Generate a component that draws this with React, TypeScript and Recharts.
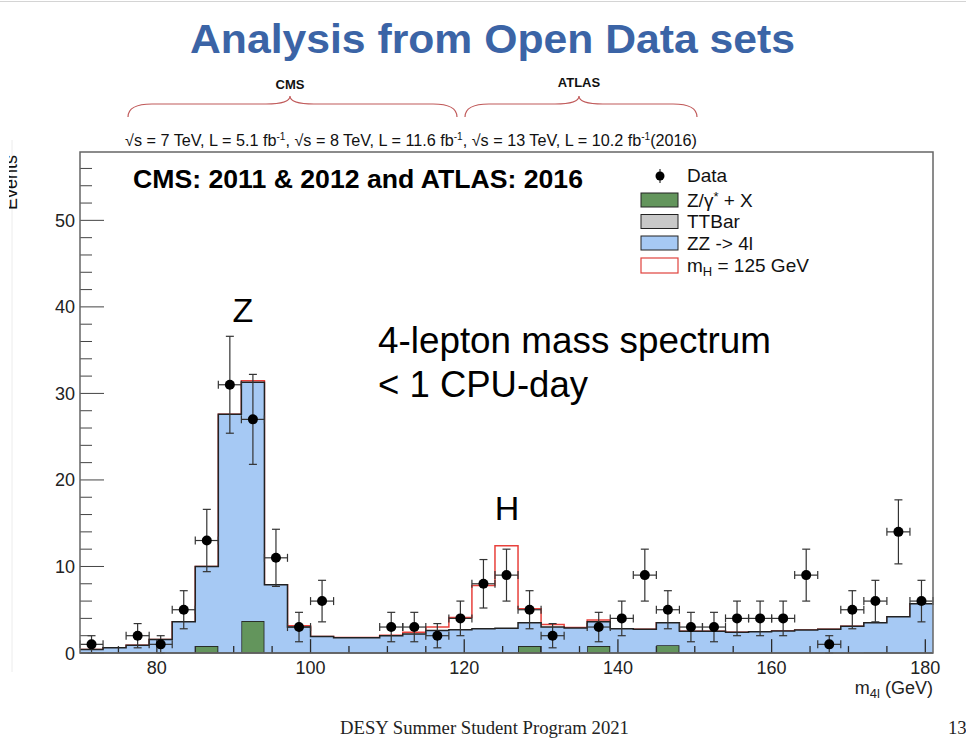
import React from 'react';
import { ComposedChart, Area, Scatter, ErrorBar, XAxis, YAxis, ReferenceLine } from 'recharts';

// Bin lower edges (GeV), 3 GeV bins, upper edge of last bin = 181
const binLow = [70, 73, 76, 79, 82, 85, 88, 91, 94, 97, 100, 103, 106, 109, 112, 115, 118, 121, 124, 127, 130, 133, 136, 139, 142, 145, 148, 151, 154, 157, 160, 163, 166, 169, 172, 175, 178];
const lastEdge = 181;

// Stacked backgrounds (events per bin)
const zgam = [0, 0, 0, 0, 0, 0.8, 0, 3.7, 0, 0, 0, 0, 0, 0, 0, 0, 0, 0, 0, 0.8, 0, 0, 0.8, 0, 0, 0.9, 0, 0, 0, 0, 0, 0, 0, 0, 0, 0, 0];
const ttbar = [0, 0, 0, 0, 0, 0, 0, 0, 0, 0, 0, 0, 0, 0, 0, 0, 0, 0, 0, 0, 0, 0, 0, 0, 0, 0, 0, 0, 0, 0, 0, 0, 0, 0, 0.1, 0, 0];
const zz4l = [0.4, 0.6, 0.9, 1.55, 3.6, 9.2, 27.6, 27.6, 7.9, 3.0, 1.9, 1.75, 1.75, 2.0, 2.2, 2.6, 2.7, 2.8, 2.85, 2.7, 3.0, 2.9, 2.8, 2.8, 2.75, 2.6, 2.5, 2.5, 2.4, 2.45, 2.55, 2.65, 2.75, 3.1, 3.4, 4.2, 5.7];
// Higgs signal (m_H = 125 GeV) on top of the stack
const higgs = [0, 0, 0, 0, 0, 0, 0, 0.15, 0, 0.15, 0, 0.05, 0.05, 0.05, 0.2, 0.4, 1.4, 5.0, 9.55, 1.6, 0.3, 0.05, 0.2, 0, 0, 0, 0, 0, 0, 0, 0, 0, 0, 0, 0, 0, 0];

// Data points
const dataMass = [71.5, 77.5, 80.5, 83.5, 86.5, 89.5, 92.5, 95.5, 98.5, 101.5, 110.5, 113.5, 116.5, 119.5, 122.5, 125.5, 128.5, 131.5, 137.5, 140.5, 143.5, 146.5, 149.5, 152.5, 155.5, 158.5, 161.5, 164.5, 167.5, 170.5, 173.5, 176.5, 179.5];
const dataCounts = [1, 2, 1, 5, 13, 31, 27, 11, 3, 6, 3, 3, 2, 4, 8, 9, 5, 2, 3, 4, 9, 5, 3, 3, 4, 4, 4, 9, 1, 5, 6, 14, 6];
const dataErr = [1, 1.4, 1, 2.2, 3.6, 5.6, 5.2, 3.3, 1.7, 2.4, 1.7, 1.7, 1.4, 2, 2.8, 3, 2.2, 1.4, 1.7, 2, 3, 2.2, 1.7, 1.7, 2, 2, 2, 3, 1, 2.2, 2.4, 3.7, 2.4];
const halfBin = [1.5];

const xTicks = [75, 80, 85, 90, 95, 100, 105, 110, 115, 120, 125, 130, 135, 140, 145, 150, 155, 160, 165, 170, 175, 180];
const yTicks = [0, 2, 4, 6, 8, 10, 12, 14, 16, 18, 20, 22, 24, 26, 28, 30, 32, 34, 36, 38, 40, 42, 44, 46, 48, 50, 52, 54, 56];

const histRows = binLow.map((lo, i) => ({
  x: lo,
  zgam: zgam[i],
  ttbar: ttbar[i],
  zz: zz4l[i],
  sig: zgam[i] + ttbar[i] + zz4l[i] + higgs[i],
}));
histRows.push({ ...histRows[histRows.length - 1], x: lastEdge });

const points = dataMass.map((m, i) => ({ x: m, n: dataCounts[i], ey: dataErr[i], ex: halfBin[0] }));

const SANS = '"Liberation Sans", Arial, Helvetica, sans-serif';
const SERIF = '"Liberation Serif", "Times New Roman", serif';

const CHART_MARGIN = { top: 152, right: 33, bottom: 66, left: 40 };
const PLOT_BOTTOM = 749 - CHART_MARGIN.bottom - 30;
const X_MAJOR_LEN = 1.6; // tick length in event units (~14 px)
const X_MINOR_LEN = 0.8; // (~7 px)

const XTick = (props: any) => {
  const { x, payload } = props;
  const v = payload.value;
  const major = v % 20 === 0;
  if (!major) return <g />;
  return (
    <text x={x} y={PLOT_BOTTOM + 21} textAnchor="middle" fontSize={18} fill="#222" fontFamily={SANS}>
      {v}
    </text>
  );
};

const YTick = (props: any) => {
  const { x, y, payload } = props;
  const v = payload.value;
  const major = v % 10 === 0;
  return (
    <g>
      <line x1={x} x2={x + (major ? 24 : 12)} y1={y} y2={y} stroke="#444" strokeWidth={1} />
      {major && (
        <text x={x - 5} y={y + 6.5} textAnchor="end" fontSize={18} fill="#222" fontFamily={SANS}>
          {v}
        </text>
      )}
    </g>
  );
};

const Dot = (props: any) => {
  const { cx, cy } = props;
  return <circle cx={cx} cy={cy} r={5} fill="#000" />;
};

const Overlay = () => (
  <svg
    width={966}
    height={749}
    style={{ position: 'absolute', left: 0, top: 0, pointerEvents: 'none' }}
  >
    {/* slide decorations */}
    <line x1={0} x2={966} y1={1.5} y2={1.5} stroke="#d4d4d4" strokeWidth={1} />
    <line x1={12} x2={12} y1={140} y2={672} stroke="#ececec" strokeWidth={1} />

    {/* title */}
    <text x={190} y={53} fontSize={40} fontWeight="bold" fill="#3b64a6" fontFamily={SANS} textLength={605} lengthAdjust="spacingAndGlyphs">
      Analysis from Open Data sets
    </text>

    {/* braces */}
    <text x={290} y={89} textAnchor="middle" fontSize={13} fontWeight="bold" fill="#111" fontFamily={SANS}>CMS</text>
    <text x={579} y={87} textAnchor="middle" fontSize={13} fontWeight="bold" fill="#111" fontFamily={SANS}>ATLAS</text>
    <path d="M128,117 Q128,104 152,104 L266,104 Q290,104 290,96 Q290,104 314,104 L433,104 Q457,104 457,117" fill="none" stroke="#c05a5a" strokeWidth={1.2} />
    <path d="M465,117 Q465,104 489,104 L555,104 Q579,104 579,96 Q579,104 603,104 L673,104 Q697,104 697,117" fill="none" stroke="#c05a5a" strokeWidth={1.2} />

    {/* energy / luminosity line */}
    <text x={125} y={146} fontSize={16} fill="#111" fontFamily={SANS} textLength={572} lengthAdjust="spacingAndGlyphs">
      √s = 7 TeV, L = 5.1 fb<tspan dy={-6} fontSize={10}>-1</tspan><tspan dy={6}>, √s = 8 TeV, L = 11.6 fb</tspan><tspan dy={-6} fontSize={10}>-1</tspan><tspan dy={6}>, √s = 13 TeV, L = 10.2 fb</tspan><tspan dy={-6} fontSize={10}>-1</tspan><tspan dy={6}>(2016)</tspan>
    </text>

    {/* y axis title, cut at the slide edge */}
    <defs>
      <clipPath id="evclip">
        <rect x={9} y={140} width={20} height={80} />
      </clipPath>
    </defs>
    <g clipPath="url(#evclip)">
      <text x={17} y={210} transform="rotate(-90 17 210)" fontSize={18} fill="#111" fontFamily={SANS}>Events</text>
    </g>

    {/* frame */}
    <rect x={80} y={152} width={853} height={501} fill="none" stroke="#666" strokeWidth={1.5} />

    {/* in-plot annotations */}
    <text x={133} y={188} fontSize={26} fontWeight="bold" fill="#000" fontFamily={SANS} textLength={450} lengthAdjust="spacingAndGlyphs">CMS: 2011 &amp; 2012 and ATLAS: 2016</text>
    <text x={243} y={322} textAnchor="middle" fontSize={34} fill="#000" fontFamily={SANS}>Z</text>
    <text x={507} y={520} textAnchor="middle" fontSize={34} fill="#000" fontFamily={SANS}>H</text>
    <text x={378} y={353} fontSize={36.5} fill="#000" fontFamily={SANS} textLength={393} lengthAdjust="spacingAndGlyphs">4-lepton mass spectrum</text>
    <text x={378} y={397} fontSize={36.5} fill="#000" fontFamily={SANS}>&lt; 1 CPU-day</text>

    {/* legend */}
    <g fontFamily={SANS} fontSize={19} fill="#111">
      <line x1={660} x2={660} y1={169} y2={183} stroke="#000" strokeWidth={1} />
      <circle cx={660} cy={176} r={4.5} fill="#000" />
      <text x={687} y={182}>Data</text>

      <rect x={641} y={193} width={37} height={14} fill="#63955c" stroke="#222" strokeWidth={1} />
      <text x={687} y={206.5}>Z/γ<tspan dy={-6} fontSize={13}>*</tspan><tspan dy={6}> + X</tspan></text>

      <rect x={641} y={214.5} width={37} height={14} fill="#c8c8c8" stroke="#222" strokeWidth={1} />
      <text x={687} y={228}>TTBar</text>

      <rect x={641} y={236} width={37} height={14} fill="#a6c9f4" stroke="#222" strokeWidth={1} />
      <text x={687} y={249.5}>ZZ -&gt; 4l</text>

      <rect x={641} y={258} width={37} height={15} fill="#fff" stroke="#e0413c" strokeWidth={1.2} />
      <text x={687} y={272}>m<tspan dy={4} fontSize={13}>H</tspan><tspan dy={-4}> = 125 GeV</tspan></text>
    </g>

    {/* x axis title */}
    <text x={933} y={694} textAnchor="end" fontSize={18} fill="#222" fontFamily={SANS}>
      m<tspan dy={4} fontSize={13}>4l</tspan><tspan dy={-4}> (GeV)</tspan>
    </text>

    {/* footer */}
    <text x={340} y={734} fontSize={18.7} fill="#222" fontFamily={SERIF}>DESY Summer Student Program 2021</text>
    <text x={948} y={734} fontSize={18.7} fill="#222" fontFamily={SERIF}>13</text>
  </svg>
);

export default function App() {
  return (
    <div style={{ position: 'absolute', left: 0, top: 0, width: 966, height: 749, background: '#fff', overflow: 'hidden' }}>
      {/* histogram chart */}
      <div style={{ position: 'absolute', left: 0, top: 0 }}>
        <ComposedChart width={966} height={749} data={histRows} margin={CHART_MARGIN}>
          <Area
            type="stepAfter"
            dataKey="sig"
            stroke="#e8413c"
            strokeWidth={1.5}
            fill="none"
            isAnimationActive={false}
            dot={false}
            activeDot={false}
          />
          <Area
            type="stepAfter"
            dataKey="zgam"
            stackId="bg"
            stroke="#222"
            strokeWidth={1.5}
            fill="#63955c"
            fillOpacity={1}
            isAnimationActive={false}
            dot={false}
            activeDot={false}
          />
          <Area
            type="stepAfter"
            dataKey="ttbar"
            stackId="bg"
            stroke="#222"
            strokeWidth={1}
            fill="#c8c8c8"
            fillOpacity={1}
            isAnimationActive={false}
            dot={false}
            activeDot={false}
          />
          <Area
            type="stepAfter"
            dataKey="zz"
            stackId="bg"
            stroke="#222"
            strokeWidth={1.5}
            fill="#a6c9f4"
            fillOpacity={1}
            isAnimationActive={false}
            dot={false}
            activeDot={false}
          />
          <XAxis
            type="number"
            dataKey="x"
            domain={[70, 181]}
            ticks={xTicks}
            allowDataOverflow
            height={30}
            axisLine={{ stroke: '#444', strokeWidth: 1.5 }}
            tickLine={false}
            tick={false}
          />
          <YAxis
            type="number"
            domain={[0, 57.9]}
            ticks={yTicks}
            allowDataOverflow
            width={40}
            axisLine={false}
            tickLine={false}
            tick={false}
          />
        </ComposedChart>
      </div>
      {/* axes ticks (drawn over the filled histograms) and data points */}
      <div style={{ position: 'absolute', left: 0, top: 0 }}>
        <ComposedChart width={966} height={749} data={histRows} margin={CHART_MARGIN}>
          {xTicks.map((t) => (
            <ReferenceLine
              key={`xt${t}`}
              segment={[
                { x: t, y: 0 },
                { x: t, y: t % 20 === 0 ? X_MAJOR_LEN : X_MINOR_LEN },
              ]}
              stroke="#2a2a2a"
              strokeWidth={1.3}
              ifOverflow="visible"
            />
          ))}
          <Scatter data={points} dataKey="n" shape={<Dot />} isAnimationActive={false}>
            <ErrorBar dataKey="ey" direction="y" width={4} stroke="#333" strokeWidth={1.2} />
            <ErrorBar dataKey="ex" direction="x" width={4} stroke="#333" strokeWidth={1.2} />
          </Scatter>
          <XAxis
            type="number"
            dataKey="x"
            domain={[70, 181]}
            ticks={xTicks}
            allowDataOverflow
            height={30}
            axisLine={false}
            tickLine={false}
            tickSize={0}
            tickMargin={0}
            tick={<XTick />}
            interval={0}
          />
          <YAxis
            type="number"
            domain={[0, 57.9]}
            ticks={yTicks}
            allowDataOverflow
            width={40}
            axisLine={false}
            tickLine={false}
            tickSize={0}
            tickMargin={0}
            tick={<YTick />}
            interval={0}
          />
        </ComposedChart>
      </div>
      <Overlay />
    </div>
  );
}
